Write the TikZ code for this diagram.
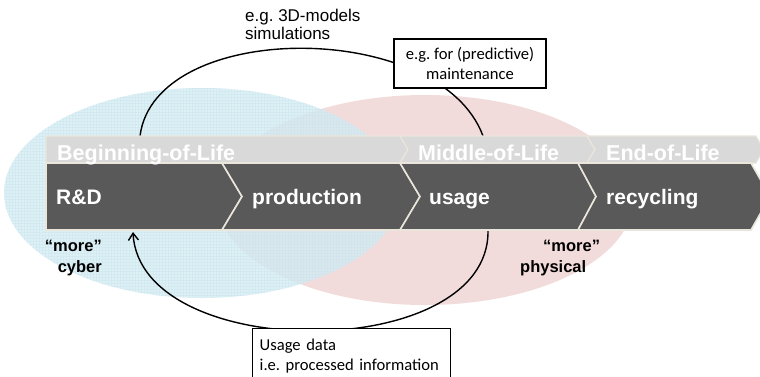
\documentclass[tikz,border=0pt]{standalone}
\usepackage{fontspec}
\setmainfont{Liberation Sans}
\newfontfamily\calfont{Carlito}
\usetikzlibrary{arrows.meta,patterns}
\definecolor{darkband}{HTML}{595959}
\definecolor{lightband}{HTML}{D9D9D9}
\definecolor{sepline}{HTML}{EAE6DC}
\definecolor{cyberblue}{RGB}{210,235,244}
\definecolor{gridblue}{RGB}{200,226,237}
\definecolor{physpink}{HTML}{F2DCDB}
\frenchspacing
\begin{document}
\begin{tikzpicture}[x=1pt,y=-1pt,
  darkseg/.style={fill=darkband,draw=sepline,line width=1.6pt,line join=miter},
  lightseg/.style={fill=lightband,draw=sepline,line width=1.2pt,line join=miter},
  arc/.style={draw=black,line width=1.4pt},
  infobox/.style={draw=black,line width=1.4pt,fill=white,font=\calfont\fontsize{16.6}{20}\selectfont},
  lightlabel/.style={anchor=base west,inner sep=0pt,text=white,font=\bfseries\fontsize{21.5}{24}\selectfont},
  darklabel/.style={anchor=base west,inner sep=0pt,text=white,font=\bfseries\fontsize{21}{24}\selectfont},
  morelabel/.style={inner sep=0pt,font=\bfseries\fontsize{16.5}{21}\selectfont},
  note/.style={inner sep=0pt,font=\fontsize{17}{18}\selectfont}]
\useasboundingbox (0,0) rectangle (760,376);
\fill[white] (0,0) rectangle (760,376);
\begin{scope}
\clip (0,0) rectangle (760,376);
% ellipses
\fill[physpink] (425,200) ellipse [x radius=208, y radius=105];
\fill[cyberblue,opacity=0.75] (202,193) ellipse [x radius=198, y radius=105];
\fill[pattern=grid,pattern color=gridblue,opacity=0.35] (202,193) ellipse [x radius=198, y radius=105];
% connector end points
\coordinate (topL) at (140,136);
\coordinate (topR) at (483,136);
\coordinate (botR) at (488,230.5);
\coordinate (botL) at (133,232);
% arcs
\draw[arc] (topL) .. controls (155,19) and (440,19) .. (topR);
\draw[arc,-{Straight Barb[length=7pt,width=10pt]}] (botR) .. controls (490,364) and (140,364) .. (botL);
% light band
\filldraw[lightseg] (46,136) -- (400,136) -- (408,149.5) -- (400,163) -- (46,163) -- cycle;
\filldraw[lightseg] (400,136) -- (587,136) -- (595,149.5) -- (587,163) -- (400,163) -- (408,149.5) -- cycle;
\filldraw[lightseg] (587,136) -- (756,136) -- (764,149.5) -- (756,163) -- (587,163) -- (595,149.5) -- cycle;
% dark band
\filldraw[darkseg] (46,163) -- (222,163) -- (242,196.5) -- (222,230) -- (46,230) -- cycle;
\filldraw[darkseg] (222,163) -- (400,163) -- (420,196.5) -- (400,230) -- (222,230) -- (242,196.5) -- cycle;
\filldraw[darkseg] (400,163) -- (578,163) -- (596,196.5) -- (578,230) -- (400,230) -- (420,196.5) -- cycle;
\filldraw[darkseg] (578,163) -- (751,163) -- (770,196.5) -- (751,230) -- (578,230) -- (596,196.5) -- cycle;
% band labels
\node[lightlabel] (bol) at (57,160) {Beginning-of-Life};
\node[lightlabel] (mol) at (418,160) {Middle-of-Life};
\node[lightlabel] (eol) at (606,160) {End-of-Life};
\node[darklabel] (rd) at (56,204) {R\&D};
\node[darklabel] (prod) at (252,204) {production};
\node[darklabel] (use) at (429,204) {usage};
\node[darklabel] (recy) at (606,204) {recycling};
% more labels
\node[morelabel,anchor=north east,align=right] (cyber) at (102,240) {“more”\\cyber};
\node[morelabel,anchor=north west,align=left] (phys) at (520,240) {\hspace*{23pt}“more”\\physical};
% notes
\node[note,anchor=north west,align=left] (models) at (245,8.6) {e.g. 3D-models\\simulations};
\node[infobox,minimum width=152pt,minimum height=49pt,inner xsep=4pt,align=center] (maint) at (470,63.5) {e.g. for (predictive)\\maintenance};
\node[infobox,anchor=north west,text width=184pt,align=left,inner xsep=7pt,inner ysep=10.5pt] (usagedata) at (252,328) {Usage data\\i.e. processed information};
\end{scope}
\end{tikzpicture}
\end{document}
